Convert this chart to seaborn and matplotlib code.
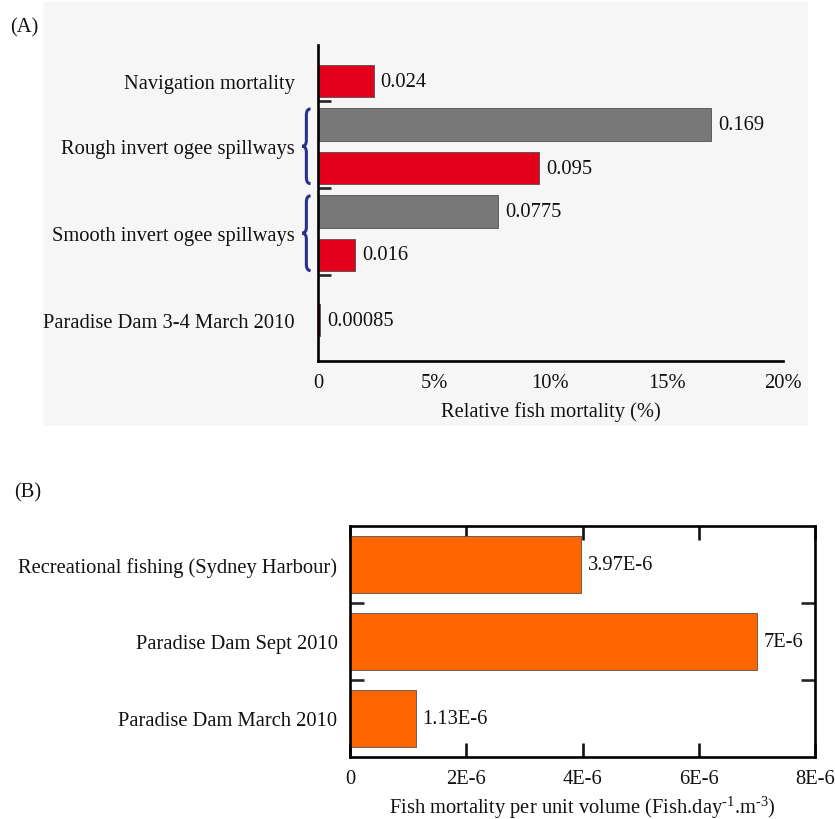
import matplotlib
matplotlib.use("Agg")
import matplotlib.pyplot as plt
import matplotlib.transforms as mtransforms
from matplotlib.patches import Rectangle, PathPatch
from matplotlib.path import Path
from matplotlib.ticker import FixedLocator, FixedFormatter
import pandas as pd
import seaborn as sns

# ---- Panel A: relative fish mortality ----
a_groups = [
    "Navigation mortality",
    "Rough invert ogee spillways",
    "Smooth invert ogee spillways",
    "Paradise Dam 3-4 March 2010",
]
a_bar_group = [0, 1, 1, 2, 2, 3]
a_bar_series = ["set1", "set2", "set1", "set2", "set1", "set1"]
a_values = [0.024, 0.169, 0.095, 0.0775, 0.016, 0.00085]
a_ticks = [0, 0.05, 0.10, 0.15, 0.20]
a_tick_labels = ["0", "5%", "10%", "15%", "20%"]
a_xlabel = "Relative fish mortality (%)"

# ---- Panel B: fish mortality per unit volume ----
b_categories = [
    "Recreational fishing (Sydney Harbour)",
    "Paradise Dam Sept 2010",
    "Paradise Dam March 2010",
]
b_values = [3.97e-6, 7e-6, 1.13e-6]
b_ticks = [0, 2e-6, 4e-6, 6e-6, 8e-6]
b_tick_labels = ["0", "2E-6", "4E-6", "6E-6", "8E-6"]
b_xlabel = "Fish mortality per unit volume (Fish.day$^{\\mathregular{\u20101}}$.m$^{\\mathregular{\u20103}}$)"

sns.set_theme(style="white")
plt.rcParams["font.family"] = ["Liberation Serif", "DejaVu Serif"]
plt.rcParams["mathtext.fontset"] = "custom"
plt.rcParams["mathtext.rm"] = "Liberation Serif"
plt.rcParams["mathtext.it"] = "Liberation Serif"
FS = 14.8
SPINE = 1.9

palette_a = {"set1": "#E2001A", "set2": "#787878"}
brace_color = "#28328C"


def sci_label(v):
    mant, exp = f"{v:e}".split("e")
    mant = f"{float(mant):g}"
    return f"{mant}E{int(exp)}"


fig = plt.figure(figsize=(8.35, 8.2), dpi=100)
fig.patch.set_facecolor("white")

# light panel backdrop behind panel A
fig.patches.append(Rectangle((43 / 835, 1 - 427 / 820), (808 - 43) / 835, (427 - 3) / 820,
                             transform=fig.transFigure, facecolor="#F6F6F6",
                             edgecolor="none", zorder=-10))

# ---------------- Panel A ----------------
axA = fig.add_axes([318 / 835, 1 - 362 / 820, (783 - 318) / 835, (362 - 46) / 820])
axA.patch.set_alpha(0)

# row layout: one row per bar, extra half-row gap before the last group
a_pos = [i + (0.5 if g == len(a_groups) - 1 else 0) for i, g in enumerate(a_bar_group)]
dfA = pd.DataFrame({"value": a_values, "pos": a_pos, "series": a_bar_series})
sns.barplot(data=dfA, x="value", y="pos", hue="series", palette=palette_a,
            orient="y", native_scale=True, dodge=False, width=0.74, saturation=1,
            edgecolor="#505050", linewidth=0.6, legend=False, ax=axA)

for v, p in zip(a_values, a_pos):
    axA.annotate(f"{v:g}", (v, p), xytext=(5, 0), textcoords="offset points",
                 ha="left", va="center", fontsize=FS, color="#111111")

axA.set_xlim(0, 0.2)
axA.set_ylim(6.44, -0.83)
axA.xaxis.set_major_locator(FixedLocator(a_ticks))
axA.xaxis.set_major_formatter(FixedFormatter(a_tick_labels))
axA.tick_params(axis="x", direction="in", length=8, width=SPINE, pad=9,
                labelsize=FS, colors="#111111")

group_centers = []
sep_ticks = []
for gi in range(len(a_groups)):
    ps = [p for p, g in zip(a_pos, a_bar_group) if g == gi]
    group_centers.append(sum(ps) / len(ps))
    if gi < len(a_groups) - 1:
        sep_ticks.append(max(ps) + 0.45)
axA.yaxis.set_major_locator(FixedLocator(group_centers))
axA.yaxis.set_major_formatter(FixedFormatter(a_groups))
axA.yaxis.set_minor_locator(FixedLocator(sep_ticks))
axA.tick_params(axis="y", which="major", length=0, pad=17, labelsize=FS, colors="#111111")
axA.tick_params(axis="y", which="minor", direction="in", length=9, width=SPINE, left=True)
axA.set_xlabel(a_xlabel, fontsize=FS, color="#111111", labelpad=6)
axA.set_ylabel("")
for side in ["top", "right"]:
    axA.spines[side].set_visible(False)
for side in ["left", "bottom"]:
    axA.spines[side].set_linewidth(SPINE)
    axA.spines[side].set_color("black")

# curly braces marking the paired bars of each spillway group
trans = mtransforms.blended_transform_factory(axA.transAxes, axA.transData)


def brace(ax, y0, y1, xr=-0.016, xl=-0.034):
    ym = 0.5 * (y0 + y1)
    xm = 0.5 * (xr + xl)
    c = 0.14
    verts = [
        (xr, y0), (xm, y0), (xm, y0 + c),
        (xm, ym - c),
        (xm, ym), (xl, ym),
        (xm, ym), (xm, ym + c),
        (xm, y1 - c),
        (xm, y1), (xr, y1),
    ]
    codes = [Path.MOVETO, Path.CURVE3, Path.CURVE3,
             Path.LINETO,
             Path.CURVE3, Path.CURVE3,
             Path.CURVE3, Path.CURVE3,
             Path.LINETO,
             Path.CURVE3, Path.CURVE3]
    ax.add_patch(PathPatch(Path(verts, codes), transform=trans, facecolor="none",
                           edgecolor=brace_color, linewidth=2.2, clip_on=False))


for gi in range(len(a_groups)):
    ps = [p for p, g in zip(a_pos, a_bar_group) if g == gi]
    if len(ps) > 1:
        brace(axA, min(ps) - 0.36, max(ps) + 0.36)

# ---------------- Panel B ----------------
axB = fig.add_axes([350 / 835, 1 - 758 / 820, (815 - 350) / 835, (758 - 527) / 820])
dfB = pd.DataFrame({"category": b_categories, "value": b_values})
sns.barplot(data=dfB, x="value", y="category", orient="y", color="#FF6600",
            saturation=1, width=0.74, edgecolor="#505050", linewidth=0.6, ax=axB)
for v, p in zip(b_values, range(len(b_values))):
    axB.annotate(sci_label(v), (v, p), xytext=(5, 0), textcoords="offset points",
                 ha="left", va="center", fontsize=FS, color="#111111")

axB.set_xlim(0, 8e-6)
axB.set_ylim(len(b_categories) - 0.5, -0.5)
axB.xaxis.set_major_locator(FixedLocator(b_ticks))
axB.xaxis.set_major_formatter(FixedFormatter(b_tick_labels))
axB.xaxis.get_offset_text().set_visible(False)
axB.tick_params(axis="x", direction="in", length=10, width=SPINE, top=True, bottom=True,
                pad=9, labelsize=FS, colors="#111111")
axB.yaxis.set_minor_locator(FixedLocator([i + 0.5 for i in range(len(b_categories) - 1)]))
axB.tick_params(axis="y", which="major", length=0, pad=9, labelsize=FS, colors="#111111")
axB.tick_params(axis="y", which="minor", direction="in", length=10, width=SPINE,
                left=True, right=True)
axB.set_xlabel(b_xlabel, fontsize=FS, color="#111111", labelpad=4)
axB.set_ylabel("")
for side in axB.spines:
    axB.spines[side].set_linewidth(SPINE)
    axB.spines[side].set_color("black")
    axB.spines[side].set_visible(True)

fig.text(10 / 835, 1 - 28 / 820, "(A)", ha="left", va="center", fontsize=FS, color="#111111")
fig.text(14 / 835, 1 - 493 / 820, "(B)", ha="left", va="center", fontsize=FS, color="#111111")

fig.savefig("out.png", dpi=100)
